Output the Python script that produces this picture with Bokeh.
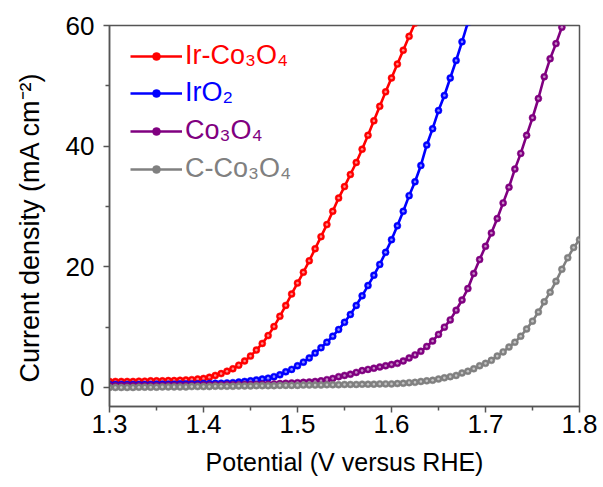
from bokeh.plotting import figure
from bokeh.models import FixedTicker, Range1d, Legend, LegendItem
from bokeh.embed import file_html
from bokeh.resources import INLINE

# Potential grid (V versus RHE)
potential = [1.3, 1.30625, 1.3125, 1.31875, 1.325, 1.33125, 1.3375, 1.34375, 1.35, 1.35625,
             1.3625, 1.36875, 1.375, 1.38125, 1.3875, 1.39375, 1.4, 1.40625, 1.4125, 1.41875,
             1.425, 1.43125, 1.4375, 1.44375, 1.45, 1.45625, 1.4625, 1.46875, 1.475, 1.48125,
             1.4875, 1.49375, 1.5, 1.50625, 1.5125, 1.51875, 1.525, 1.53125, 1.5375, 1.54375,
             1.55, 1.55625, 1.5625, 1.56875, 1.575, 1.58125, 1.5875, 1.59375, 1.6, 1.60625,
             1.6125, 1.61875, 1.625, 1.63125, 1.6375, 1.64375, 1.65, 1.65625, 1.6625, 1.66875,
             1.675, 1.68125, 1.6875, 1.69375, 1.7, 1.70625, 1.7125, 1.71875, 1.725, 1.73125,
             1.7375, 1.74375, 1.75, 1.75625, 1.7625, 1.76875, 1.775, 1.78125, 1.7875, 1.79375, 1.8]

# Current density (mA cm-2)
j_ir_co3o4 = [1.0, 1.0, 1.0, 1.0, 1.0, 1.05, 1.05, 1.1, 1.1, 1.1, 1.15, 1.15, 1.2, 1.25, 1.3, 1.4,
              1.5, 1.7, 2.0, 2.3, 2.7, 3.1, 3.7, 4.4,
              5.2, 6.2, 7.3, 8.6, 10.1, 11.8, 13.6, 15.5,
              17.3, 19.1, 21.0, 23.0, 25.0, 27.0, 29.2, 31.4,
              33.3, 35.3, 37.3, 39.5, 41.8, 44.2, 46.6, 49.0,
              51.3, 53.6, 55.9, 58.2, 60.4]
j_iro2 = [0.5, 0.5, 0.5, 0.5, 0.5, 0.5, 0.5, 0.5, 0.55, 0.55, 0.55, 0.55, 0.6, 0.6, 0.6, 0.6,
          0.65, 0.65, 0.7, 0.7, 0.75, 0.8, 0.9, 1.0, 1.1, 1.25,
          1.4, 1.55, 1.8, 2.1, 2.6, 3.0, 3.6, 4.2, 4.9, 5.7, 6.6, 7.5, 8.5, 9.6, 10.8, 12.1,
          13.6, 15.2, 16.9, 18.6, 20.4, 22.4, 24.5, 26.8,
          29.2, 31.8, 34.1, 36.8, 40.2, 42.9, 45.9, 48.4, 51.3, 54.2, 57.3, 60.5]
j_co3o4 = [0.3, 0.3, 0.3, 0.3, 0.3, 0.3, 0.3, 0.3, 0.3, 0.3, 0.35, 0.35, 0.35, 0.35, 0.35, 0.35,
           0.4, 0.4, 0.4, 0.4, 0.45, 0.45, 0.45, 0.5,
           0.5, 0.5, 0.55, 0.55, 0.6, 0.65, 0.7, 0.75,
           0.8, 0.85, 0.9, 1.0, 1.1, 1.3, 1.5, 1.8,
           2.0, 2.2, 2.5, 2.8, 3.0, 3.2, 3.4, 3.6,
           3.8, 4.0, 4.4, 4.9, 5.4, 6.0, 6.8, 7.7,
           8.8, 10.0, 11.2, 12.8, 14.5, 16.4, 18.9, 21.2,
           23.4, 25.6, 28.0, 30.6, 33.2, 36.2, 38.8, 41.8,
           44.7, 47.9, 51.5, 54.5, 57.0, 59.7]
j_c_co3o4 = [0.0, 0.0, 0.0, 0.0, 0.0, 0.05, 0.05, 0.05, 0.05, 0.1, 0.1, 0.1, 0.1, 0.1, 0.15, 0.15,
             0.15, 0.15, 0.2, 0.2, 0.2, 0.2, 0.25, 0.25, 0.25, 0.3, 0.3, 0.3, 0.3, 0.35, 0.35, 0.35,
             0.35, 0.4, 0.4, 0.4, 0.4, 0.45, 0.45, 0.45, 0.5, 0.5, 0.5, 0.55, 0.55, 0.55, 0.6, 0.6,
             0.6, 0.65, 0.7, 0.8, 0.85, 1.0, 1.1, 1.2, 1.4, 1.6, 1.8, 2.0,
             2.4, 2.7, 3.1, 3.6, 4.0, 4.5, 5.2, 5.9, 6.7, 7.5,
             8.5, 9.7, 11.0, 12.5, 14.2, 15.8, 17.6, 19.6, 21.5, 23.2, 24.5]

series_labels = ["Ir-Co\u2083O\u2084", "IrO\u2082", "Co\u2083O\u2084", "C-Co\u2083O\u2084"]
series_values = [j_ir_co3o4, j_iro2, j_co3o4, j_c_co3o4]
series_colors = ["#FF0000", "#0000FF", "#800080", "#808080"]

x_major = [1.3, 1.4, 1.5, 1.6, 1.7, 1.8]
x_minor = [1.35, 1.45, 1.55, 1.65, 1.75]
y_major = [0, 20, 40, 60]
y_minor = [10, 30, 50]

FONT = "Liberation Sans"
AXIS_COLOR = "#555555"

p = figure(width=603, height=487, output_backend="svg", toolbar_location=None,
           x_range=Range1d(1.3, 1.8), y_range=Range1d(-3.15, 60),
           min_border_left=109, min_border_right=24, min_border_top=25, min_border_bottom=81)
p.background_fill_color = "white"
p.border_fill_color = "white"
p.xgrid.visible = False
p.ygrid.visible = False
p.outline_line_color = AXIS_COLOR
p.outline_line_width = 1.5

for ax in (p.xaxis[0], p.yaxis[0]):
    ax.axis_line_color = AXIS_COLOR
    ax.axis_line_width = 1.5
    ax.major_tick_line_color = AXIS_COLOR
    ax.minor_tick_line_color = AXIS_COLOR
    ax.major_tick_line_width = 1.5
    ax.minor_tick_line_width = 1.5
    ax.major_tick_in = 0
    ax.major_tick_out = 6
    ax.minor_tick_in = 0
    ax.minor_tick_out = 4
    ax.major_label_text_font = FONT
    ax.major_label_text_font_size = "26px"
    ax.major_label_text_color = "black"
    ax.axis_label_text_font = FONT
    ax.axis_label_text_font_style = "normal"
    ax.axis_label_text_color = "black"

p.xaxis.ticker = FixedTicker(ticks=x_major, minor_ticks=x_minor)
p.yaxis.ticker = FixedTicker(ticks=y_major, minor_ticks=y_minor)
p.xaxis.major_label_standoff = 2
p.yaxis.major_label_standoff = 9
p.xaxis.axis_label = "Potential (V versus RHE)"
p.xaxis.axis_label_text_font_size = "25px"
p.xaxis.axis_label_standoff = 12
# trailing no-break spaces nudge the centred title slightly down, as in the original
p.yaxis.axis_label = "Current density (mA cm\u207b\u00b2)\u00a0\u00a0\u00a0"
p.yaxis.axis_label_text_font_size = "27px"
p.yaxis.axis_label_standoff = 18

legend_bottoms = [335.0, 298.0, 260.0, 222.0]
for label, vals, color, lb in zip(series_labels, series_values, series_colors, legend_bottoms):
    xs = potential[:len(vals)]
    ln = p.line(xs, vals, line_color=color, line_width=2.6)
    mk = p.scatter(xs, vals, size=7, marker="circle", fill_color=color, line_color=color, line_width=0.5)
    p.scatter(xs, vals, size=2.6, marker="circle", fill_color="white", fill_alpha=0.55, line_color=None)
    lg = Legend(items=[LegendItem(label=label, renderers=[ln, mk])], location=(21, lb),
                margin=0, padding=0, glyph_width=52, glyph_height=20, label_standoff=3,
                label_text_font=FONT, label_text_font_size="27px", label_text_color=color,
                border_line_color=None, background_fill_alpha=0)
    p.add_layout(lg)

open("out.html", "w").write(file_html(p, INLINE))
